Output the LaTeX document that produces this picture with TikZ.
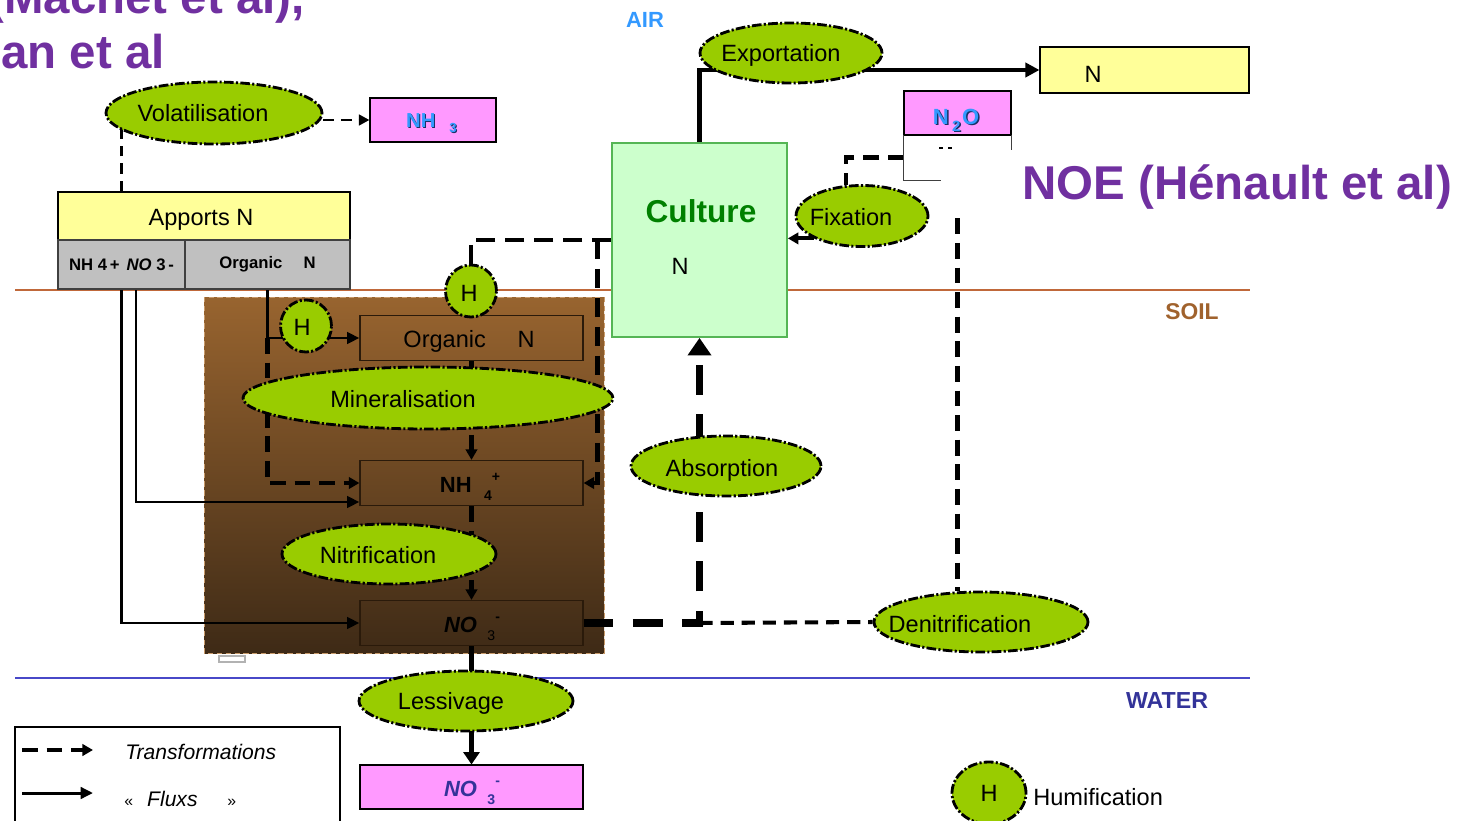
\documentclass[tikz,border=0pt]{standalone}
\usepackage{fontspec}
\setmainfont{Liberation Sans}
\usetikzlibrary{shapes.geometric,arrows.meta}
\pgfdeclarelayer{back}
\pgfdeclarelayer{conn}
\pgfsetlayers{back,conn,main}
\definecolor{ellg}{HTML}{99CC00}
\definecolor{yel}{HTML}{FFFF99}
\definecolor{pnk}{HTML}{FF99FF}
\definecolor{cultf}{HTML}{CCFFCC}
\definecolor{cultd}{HTML}{55B555}
\definecolor{cultt}{HTML}{008000}
\definecolor{cellg}{HTML}{C0C0C0}
\definecolor{purp}{HTML}{7030A0}
\definecolor{airb}{HTML}{3399FF}
\definecolor{soilt}{HTML}{A0622D}
\definecolor{soill}{HTML}{C0683A}
\definecolor{waterl}{HTML}{4848C8}
\definecolor{watert}{HTML}{333399}
\definecolor{soiltop}{HTML}{98642F}
\definecolor{soilbot}{HTML}{3E2A16}
\definecolor{soilbd}{HTML}{C89A6A}
\definecolor{navy}{HTML}{1A2F66}
\definecolor{inbd}{HTML}{2A1A0A}
\newcommand\fsz[1]{\fontsize{#1}{#1}\selectfont}
\begin{document}
\begin{tikzpicture}[x=0.02cm,y=-0.02cm,
  proc/.style 2 args={ellipse, draw=black, fill=ellg, line width=1.6pt,
     dash pattern=on 5.5pt off 1.3pt on 1.2pt off 1.3pt,
     minimum width=#1*0.02cm, minimum height=#2*0.02cm, inner sep=0pt},
  box/.style 2 args={draw=black, line width=0.6pt, minimum width=#1*0.02cm,
     minimum height=#2*0.02cm, inner sep=0pt},
  txt/.style={inner sep=0pt, font=\fsz{13.4}},
  inbox/.style={draw=inbd, line width=0.7pt, minimum width=223*0.02cm,
     minimum height=45*0.02cm, inner sep=0pt},
  flux/.style={line width=1.7pt, -{Triangle[length=7pt,width=6.5pt]}},
  trans/.style={line width=2.3pt, dash pattern=on 9pt off 5pt,
     -{Triangle[length=6pt,width=6.5pt]}},
  transn/.style={line width=2.3pt, dash pattern=on 9pt off 5pt},
  uptake/.style={line width=2.7pt, dash pattern=on 11pt off 5.5pt},
  voldash/.style={line width=1.7pt, dash pattern=on 6pt off 4pt},
  absorb/.style={line width=4.5pt, dash pattern=on 17pt off 11pt,
     -{Triangle[length=10pt,width=13pt]}},
  denitd/.style={line width=2.3pt, dash pattern=on 7.5pt off 4.5pt},
  export/.style={line width=2.8pt, -{Triangle[length=8pt,width=8pt]}},
  less/.style={line width=2.4pt, -{Triangle[length=7pt,width=9pt]}},
  ttl/.style={anchor=base west, inner sep=0pt, font=\fsz{27}\bfseries},
]
\useasboundingbox (0,0) rectangle (1474,821);

% ---- titles
\node[ttl, text=purp] (t1) at (-12,14) {(Machet et al),};
\node[ttl, text=purp] (t2) at (1,69) {an et al};
\node[ttl, text=purp] (t3) at (1022,199) {NOE (Hénault et al)};

\node[inner sep=0pt, font=\fsz{12.5}\bfseries, text=airb] (air) at (645,20) {AIR};
\node[inner sep=0pt, font=\fsz{13}\bfseries, text=soilt] (soil) at (1192,312) {SOIL};
\node[inner sep=0pt, font=\fsz{13.2}\bfseries, text=watert] (water) at (1167,701) {WATER};

% ---- background
\begin{pgfonlayer}{back}
  \shade[top color=soiltop, bottom color=soilbot] (204,297) rectangle (604,653);
  \draw[soilbd, densely dashed, line width=0.5pt] (204,297) rectangle (604,653);
  \draw[soill, line width=0.7pt] (15,290) -- (1250,290);
  \draw[waterl, line width=0.8pt] (15,678) -- (1250,678);
  \draw[black!30, fill=white, line width=0.7pt] (219,656) rectangle (245,662);
\end{pgfonlayer}

% ---- boxes
\node[box={292}{48}, fill=yel] (apports) at (204,216) {};
\node[txt, anchor=base] (apportsT) at (201,225) {Apports N};
\node[box={127}{49}, fill=cellg, draw=black!75] (cellL) at (121.5,264.5)
  {\fsz{9.5}\bfseries NH 4\,+\hspace{4pt}\textit{NO} 3\,-};
\node[box={165}{49}, fill=cellg, draw=black!75] (cellR) at (267.5,264.5)
  {\fsz{9.5}\bfseries Organic\hspace{12pt}N};

\node[box={126}{44}, fill=pnk] (nh3) at (433,120) {};
\node[inner sep=0pt, anchor=base, font=\fsz{11.5}\bfseries, text=navy] (nh3s) at (432.5,128.5)
  {NH\hspace{8pt}\raisebox{-3pt}{\fsz{7.5}3}};
\node[inner sep=0pt, anchor=base, font=\fsz{11.5}\bfseries, text=airb] (nh3t) at (431.5,127.5)
  {NH\hspace{8pt}\raisebox{-3pt}{\fsz{7.5}3}};

\node[box={107}{44}, fill=pnk] (n2o) at (957.5,113) {};
\node[inner sep=0pt, anchor=base, font=\fsz{12.5}\bfseries, text=navy] (n2os) at (957.5,125.5)
  {N\hspace{2pt}\raisebox{-4pt}{\fsz{8.5}2}\hspace{1pt}O};
\node[inner sep=0pt, anchor=base, font=\fsz{12.5}\bfseries, text=airb] (n2ot) at (956,124.5)
  {N\hspace{2pt}\raisebox{-4pt}{\fsz{8.5}2}\hspace{1pt}O};
\node[minimum width=107*0.02cm, minimum height=45*0.02cm, inner sep=0pt] (n2olow) at (957.5,157.5) {};
\draw[black!75, line width=0.7pt] (n2olow.north west) -- (n2olow.south west) -- ++(37,0);
\draw[black!75, line width=0.7pt] (n2olow.north east) -- ++(0,15);
\draw[line width=0.6pt] (939,148) -- (943,148) (948,148) -- (952,148);

\node[box={175}{194}, fill=cultf, draw=cultd, line width=1pt] (culture) at (699.5,240) {};
\node[inner sep=0pt, anchor=base, font=\fsz{18}\bfseries, text=cultt] (cultT) at (701,222) {Culture};
\node[txt, anchor=base] (cultN) at (680,274) {N};

\node[box={209}{46}, fill=yel] (nbox) at (1144.5,70) {};
\node[txt, anchor=base] (nboxT) at (1093,83) {N};

% soil compartments
\node[inbox] (orgN) at (471.5,338) {};
\node[txt, anchor=base] (orgNT) at (469,347) {Organic\hspace{18pt}N};
\node[inbox] (nh4) at (471.5,483) {};
\node[inner sep=0pt, anchor=base, font=\fsz{12.5}\bfseries] (nh4T) at (470,492)
  {NH\hspace{7pt}\raisebox{-5pt}{\fsz{8}4}\raisebox{6pt}{\fsz{8}+}};
\node[inbox] (no3) at (471.5,623) {};
\node[inner sep=0pt, anchor=base, font=\fsz{12.5}\bfseries] (no3T) at (472,632)
  {\textit{NO}\hspace{6pt}\raisebox{-5pt}{\fsz{8}\mdseries 3}\raisebox{6pt}{\fsz{8}-}};

\node[box={223}{44}, fill=pnk] (no3w) at (471.5,787) {};
\node[inner sep=0pt, anchor=base, font=\fsz{12.5}\bfseries, text=watert] (no3wT) at (472,796)
  {\textit{NO}\hspace{6pt}\raisebox{-5pt}{\fsz{8}3}\raisebox{6pt}{\fsz{8}-}};

% ---- process ellipses
\node[proc={216}{62}] (vol) at (214,113) {};
\node[txt, anchor=base] (volT) at (203,122) {Volatilisation};
\node[proc={182}{60}] (exp) at (791,53) {};
\node[txt, anchor=base] (expT) at (781,62) {Exportation};
\node[proc={132}{61}] (fix) at (862,216) {};
\node[txt, anchor=base] (fixT) at (851,225) {Fixation};
\node[proc={370}{62}] (miner) at (428,398) {};
\node[txt, anchor=base] (minerT) at (403,407) {Mineralisation};
\node[proc={214}{60}] (nitri) at (389,554) {};
\node[txt, anchor=base] (nitriT) at (378,563) {Nitrification};
\node[proc={190}{60}] (absor) at (726,466) {};
\node[txt, anchor=base] (absorT) at (722,476) {Absorption};
\node[proc={214}{60}] (denit) at (981,622) {};
\node[txt, anchor=base] (denitT) at (960,632) {Denitrification};
\node[proc={214}{60}] (less) at (466,701) {};
\node[txt, anchor=base] (lessT) at (451,709) {Lessivage};
\node[proc={51}{52}] (h1) at (471,291) {};
\node[txt, anchor=base] (h1T) at (469,301) {H};
\node[proc={51}{52}] (h2) at (306,326) {};
\node[txt, anchor=base] (h2T) at (302,335) {H};
\node[proc={74}{62}] (hleg) at (989,793) {};
\node[txt, anchor=base] (hlegT) at (989,801) {H};
\node[txt, anchor=base west] (humT) at (1033,805) {Humification};

% ---- legend
\node[draw=black, line width=0.6pt, minimum width=325*0.02cm, minimum height=113*0.02cm, inner sep=0pt] (legend) at (177.5,783.5) {};
\coordinate (ld1) at (22,750);
\coordinate (ld2) at (93,750);
\coordinate (ls1) at (22,793);
\coordinate (ls2) at (93,793);
\node[inner sep=0pt, anchor=base west, font=\fsz{12}\itshape] (legT) at (125,759) {Transformations};
\node[inner sep=0pt, anchor=base west, font=\fsz{12}\itshape] (legF) at (124,806)
  {{\fsz{9}\upshape «}\hspace{8pt}Fluxs\hspace{17pt}{\fsz{9}\upshape »}};

% ---- connectors
\begin{pgfonlayer}{conn}
  \draw[trans] (ld1) -- (ld2);
  \draw[flux] (ls1) -- (ls2);
  % volatilisation
  \draw[voldash] (apports.north -| cellL.south) -- (vol.center -| cellL.south);
  \draw[voldash, -{Triangle[length=6pt,width=6pt]}] (vol.east |- nh3.west) -- (nh3.west);
  % exportation
  \draw[export] (culture.north) |- (nbox.west);
  % fixation
  \draw[transn] (n2olow.west) -| (fix.118);
  \draw[trans] (fix.205) -- (fix.205 -| culture.east);
  % denitrification
  \draw[transn] ([yshift=-0.76cm]n2olow.south) -- (denit.north -| n2olow.south);
  \draw[denitd] (no3.east -| culture.south) -- (denit.west);
  % absorption
  \draw[absorb] (no3.east) -| (culture.south);
  % uptake / humification from culture
  \draw[uptake] (culture.west) -| (h1.north);
  \draw[uptake, -{Triangle[length=6pt,width=6.5pt]}] ([xshift=-0.28cm]culture.west) |- (nh4.east);
  % apports fluxes
  \draw[flux] (cellL.south) |- (no3.west);
  \draw[flux] ([xshift=0.29cm]cellL.south) |- ([yshift=-0.38cm]nh4.west);
  \draw[flux] (cellR.south) |- (orgN.west);
  \draw[trans] (cellR.south |- orgN.west) |- (nh4.west);
  % transformations
  \draw[trans] (orgN.south) -- (nh4.north);
  \draw[trans] (nh4.south) -- (no3.north);
  % leaching
  \draw[less] (no3.south) -- (no3w.north);
\end{pgfonlayer}
\end{tikzpicture}
\end{document}
